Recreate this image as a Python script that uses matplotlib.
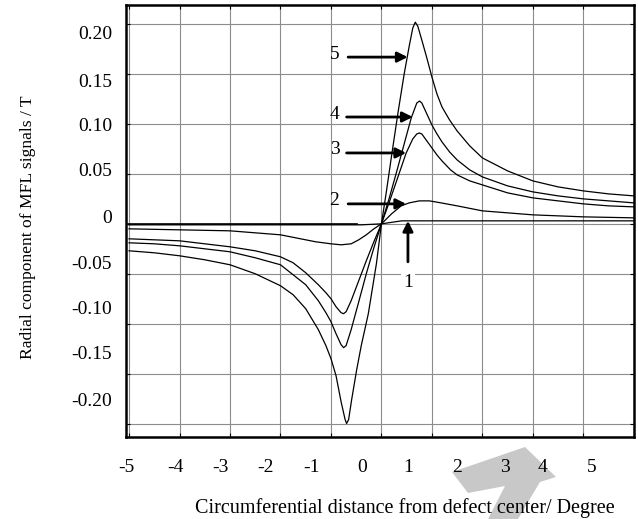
import numpy as np
import matplotlib.pyplot as plt
from matplotlib.patches import Polygon

# radial MFL signal curves
x1 = [-5, -0.4, 0, 0.4, 5]
y1 = [-0.001, -0.001, 0, 0.003, 0.003]

x2 = [-5, -4, -3, -2.5, -2, -1.6, -1.3, -1.0, -0.8, -0.6, -0.45, -0.3, -0.15, 0, 0.2, 0.39, 0.55, 0.75, 0.95,
      1.18, 1.5, 2, 2.5, 3, 4, 5]
y2 = [-0.005, -0.006, -0.007, -0.009, -0.011, -0.015, -0.018, -0.020, -0.021, -0.020, -0.016, -0.011, -0.005, 0,
      0.010, 0.018, 0.021, 0.023, 0.023, 0.021, 0.018, 0.013, 0.011, 0.009, 0.007, 0.006]

x3 = [-5, -4.5, -4, -3.5, -3, -2.5, -2, -1.75, -1.5, -1.25, -1.1, -1.0, -0.9, -0.8, -0.75, -0.7, -0.6, -0.45,
      -0.3, -0.15, 0, 0.15, 0.3, 0.49, 0.62, 0.7, 0.75, 0.8, 0.9, 1.0, 1.1, 1.2, 1.37, 1.5, 1.75, 2, 2.5, 3, 3.5,
      4, 4.5, 5]
y3 = [-0.015, -0.016, -0.017, -0.020, -0.023, -0.027, -0.033, -0.039, -0.049, -0.061, -0.069, -0.075, -0.083,
      -0.089, -0.090, -0.088, -0.077, -0.057, -0.037, -0.018, 0, 0.021, 0.043, 0.071, 0.085, 0.090, 0.091, 0.090,
      0.083, 0.076, 0.069, 0.063, 0.054, 0.049, 0.043, 0.039, 0.031, 0.026, 0.023, 0.020, 0.018, 0.017]

x4 = [-5, -4.5, -4, -3.5, -3, -2.5, -2, -1.75, -1.5, -1.25, -1.1, -1.0, -0.9, -0.8, -0.75, -0.7, -0.6, -0.46,
      -0.3, -0.15, 0, 0.15, 0.3, 0.45, 0.59, 0.7, 0.755, 0.8, 0.9, 1.0, 1.1, 1.2, 1.35, 1.5, 1.75, 2, 2.5, 3, 3.5,
      4, 4.5, 5]
y4 = [-0.019, -0.020, -0.022, -0.025, -0.028, -0.034, -0.041, -0.051, -0.061, -0.077, -0.089, -0.098, -0.110,
      -0.121, -0.124, -0.122, -0.106, -0.080, -0.050, -0.024, 0, 0.025, 0.052, 0.080, 0.106, 0.121, 0.123, 0.121,
      0.110, 0.099, 0.090, 0.082, 0.072, 0.064, 0.054, 0.047, 0.038, 0.032, 0.028, 0.025, 0.023, 0.021]

x5 = [-5, -4.5, -4, -3.5, -3, -2.5, -2, -1.75, -1.5, -1.25, -1.1, -1.0, -0.9, -0.8, -0.72, -0.69, -0.65, -0.59,
      -0.49, -0.4, -0.26, -0.1, 0, 0.1, 0.2, 0.33, 0.45, 0.55, 0.62, 0.67, 0.72, 0.8, 0.9, 1.0, 1.1, 1.2, 1.35,
      1.5, 1.75, 2, 2.5, 3, 3.5, 4, 4.5, 5]
y5 = [-0.027, -0.029, -0.032, -0.036, -0.041, -0.050, -0.062, -0.071, -0.085, -0.106, -0.122, -0.135, -0.152,
      -0.178, -0.196, -0.200, -0.196, -0.176, -0.146, -0.122, -0.090, -0.040, 0, 0.033, 0.068, 0.112, 0.150,
      0.178, 0.196, 0.202, 0.198, 0.184, 0.166, 0.147, 0.130, 0.117, 0.104, 0.093, 0.078, 0.066, 0.053, 0.043,
      0.037, 0.033, 0.030, 0.028]

x_grid = [-5, -4, -3, -2, -1, 0, 1, 2, 3, 4, 5]
y_grid = [-0.20, -0.15, -0.10, -0.05, 0, 0.05, 0.10, 0.15, 0.20]

# the printed tick labels sit off the grid in the original, keep that
x_label_pos = [-5.06, -4.09, -3.19, -2.3, -1.38, -0.39, 0.53, 1.5, 2.44, 3.2, 4.17]
x_labels = ['-5', '-4', '-3', '-2', '-1', '0', '1', '2', '3', '4', '5']
y_label_pos = [-0.176, -0.129, -0.084, -0.039, 0.007, 0.054, 0.099, 0.144, 0.192]
y_labels = ['-0.20', '-0.15', '-0.10', '-0.05', '0', '0.05', '0.10', '0.15', '0.20']

plt.rcParams['font.family'] = ['Liberation Serif', 'DejaVu Serif']
FS = 14

fig = plt.figure(figsize=(6.38, 5.19), dpi=100)
ax = fig.add_axes([0.1975, 0.158, 0.796, 0.832])

ax.set_xlim(-5, 5)
ax.set_ylim(-0.2135, 0.219)

ax.set_xticks(x_grid)
ax.set_yticks(y_grid)
ax.tick_params(which='major', direction='in', length=3, width=0.8, top=True, right=True,
               labelbottom=False, labelleft=False)
ax.set_xticks(x_label_pos, minor=True)
ax.set_xticklabels(x_labels, minor=True)
ax.set_yticks(y_label_pos, minor=True)
ax.set_yticklabels(y_labels, minor=True)
ax.tick_params(which='minor', length=0, labelsize=FS, pad=16)
ax.tick_params(axis='y', which='minor', pad=10)

ax.grid(True, which='major', color='0.55', linewidth=0.8)
ax.set_axisbelow(True)
for sp in ax.spines.values():
    sp.set_linewidth(1.8)

for xs, ys in [(x1, y1), (x2, y2), (x3, y3), (x4, y4), (x5, y5)]:
    ax.plot(xs, ys, color='k', linewidth=0.9)
ax.axhline(0, xmax=0.455, color='k', linewidth=1.2)

arrow = dict(arrowstyle='-|>', color='k', lw=2, mutation_scale=15, shrinkA=0, shrinkB=0)
for lab, tail, head, y in [('5', -0.66, 0.52, 0.167), ('4', -0.69, 0.62, 0.107),
                           ('3', -0.69, 0.49, 0.071), ('2', -0.66, 0.49, 0.020)]:
    ax.annotate('', xy=(head, y), xytext=(tail, y), arrowprops=arrow)
    ax.text(-0.93, y + 0.003, lab, fontsize=FS, ha='center', va='center')
ax.annotate('', xy=(0.525, 0.003), xytext=(0.525, -0.038), arrowprops=arrow)
ax.text(0.53, -0.059, '1', fontsize=FS, ha='center', va='center',
        bbox=dict(facecolor='white', edgecolor='none', pad=1.5))

ax.set_xlabel('Circumferential distance from defect center/ Degree', fontsize=14.5)
ax.xaxis.set_label_coords(0.549, -0.142)
ax.set_ylabel('Radial component of MFL signals / T', fontsize=12.6)
ax.yaxis.set_label_coords(-0.178, 0.486)

# grey watermark at the bottom
wm = Polygon([(452 / 638, 1 - 472 / 519), (525 / 638, 1 - 447 / 519), (556 / 638, 1 - 477 / 519),
              (540 / 638, 1 - 482 / 519), (518 / 638, 0), (488 / 638, 0), (505 / 638, 1 - 486 / 519),
              (468 / 638, 1 - 493 / 519)],
             closed=True, transform=fig.transFigure, facecolor='#c8c8c8', edgecolor='none', zorder=-1)
fig.patches.append(wm)

fig.savefig('out.png', dpi=100)
